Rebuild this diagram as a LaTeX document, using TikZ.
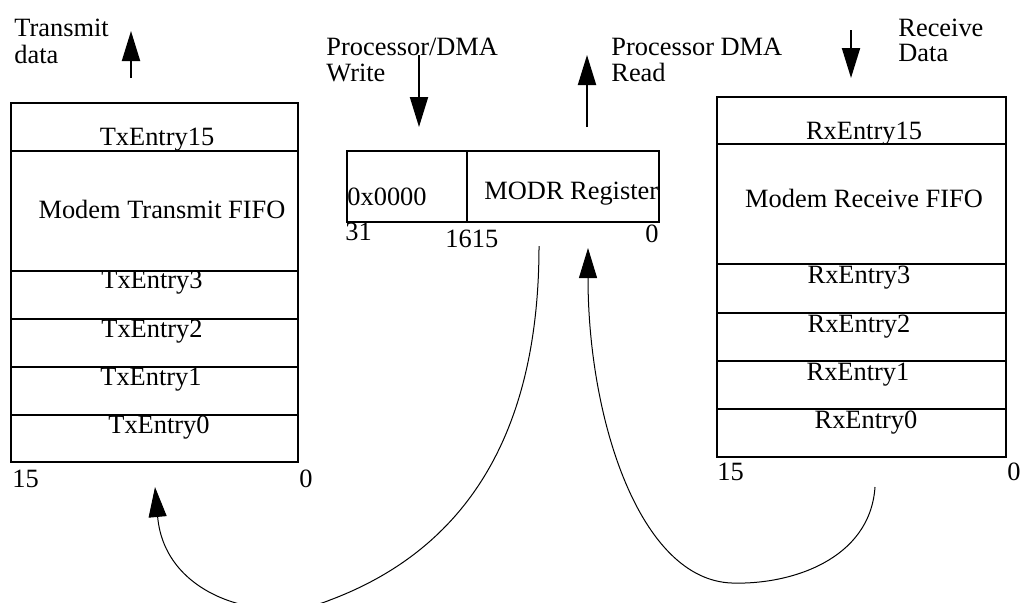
\documentclass[tikz,border=0pt]{standalone}
\usepackage{fontspec}
\setmainfont{Liberation Serif}
\usetikzlibrary{arrows.meta}

\begin{document}
\begin{tikzpicture}[x=0.5pt, y=-0.5pt,
        lbl/.style={font=\fontsize{13.2}{13}\selectfont, inner sep=0pt, anchor=base},
        lblw/.style={lbl, anchor=base west, align=left},
        frame/.style={draw=black, line width=1pt},
        flow/.style={line width=1pt, -{Triangle[length=15pt,width=9pt]}},
        loopback/.style={line width=0.5pt, -{Triangle[length=15pt,width=9pt]}}]
\useasboundingbox (0,0) rectangle (1020,602);
\draw[frame] (11,103) rectangle (298,462);
\draw[frame] (11,151) -- (298,151);
\draw[frame] (11,271) -- (298,271);
\draw[frame] (11,319) -- (298,319);
\draw[frame] (11,367) -- (298,367);
\draw[frame] (11,415) -- (298,415);
\node[lbl] (tx15) at (157,145) {TxEntry15};
\node[lbl] (txfifo) at (162,218) {Modem Transmit FIFO};
\node[lbl] (tx3) at (152,288) {TxEntry3};
\node[lbl] (tx2) at (152,337) {TxEntry2};
\node[lbl] (tx1) at (151,385) {TxEntry1};
\node[lbl] (tx0) at (159,433) {TxEntry0};
\node[lblw] (txmsb) at (12,487) {15};
\node[lblw] (txlsb) at (299,487) {0};
\draw[frame] (347,151) rectangle (659,222);
\draw[frame] (467,151) -- (467,222);
\node[lblw] (modrhi) at (347,205) {0x0000};
\node[lblw] (modrlo) at (484,199) {MODR Register};
\node[lblw] (bit31) at (345,240) {31};
\node[lblw] (bit1615) at (445,247) {1615};
\node[lblw] (bit0) at (645,242) {0};
\draw[frame] (717,97) rectangle (1006,457);
\draw[frame] (717,144) -- (1006,144);
\draw[frame] (717,264) -- (1006,264);
\draw[frame] (717,313) -- (1006,313);
\draw[frame] (717,361) -- (1006,361);
\draw[frame] (717,409) -- (1006,409);
\node[lbl] (rx15) at (864,139) {RxEntry15};
\node[lbl] (rxfifo) at (864,207) {Modem Receive FIFO};
\node[lbl] (rx3) at (859,283) {RxEntry3};
\node[lbl] (rx2) at (859,332) {RxEntry2};
\node[lbl] (rx1) at (858,380) {RxEntry1};
\node[lbl] (rx0) at (866,428) {RxEntry0};
\node[lblw] (rxmsb) at (717,480) {15};
\node[lblw] (rxlsb) at (1007,480) {0};
\node[lblw] (txdata) at (14,63) {Transmit\\[0.5pt]data};
\node[lblw] (dmawrite) at (326,81) {Processor/DMA\\Write};
\node[lblw] (dmaread) at (611,81) {Processor DMA\\Read};
\node[lblw] (rxdata) at (898,61) {Receive\\[-0.5pt]Data};
\coordinate (txtail) at (131,78);
\coordinate (txtip) at (131,31);
\coordinate (wrtail) at (419,55);
\coordinate (wrtip) at (419,127);
\coordinate (rdtail) at (587,127);
\coordinate (rdtip) at (587,55);
\coordinate (rxtail) at (851,30);
\coordinate (rxtip) at (851,78);
\draw[flow] (txtail) -- (txtip);
\draw[flow] (wrtail) -- (wrtip);
\draw[flow] (rdtail) -- (rdtip);
\draw[flow] (rxtail) -- (rxtip);
\coordinate (modrout) at (539,246);
\coordinate (txin) at (155,487);
\coordinate (rxout) at (875,487);
\coordinate (modrin) at (588,248);
\draw[loopback] (modrout) .. controls (539,400) and (490,540) .. (330,600)
        .. controls (270,625) and (165,600) .. (txin);
\draw[loopback] (rxout) .. controls (870,560) and (790,585) .. (732,583)
        .. controls (640,580) and (588,420) .. (modrin);
\end{tikzpicture}
\end{document}
